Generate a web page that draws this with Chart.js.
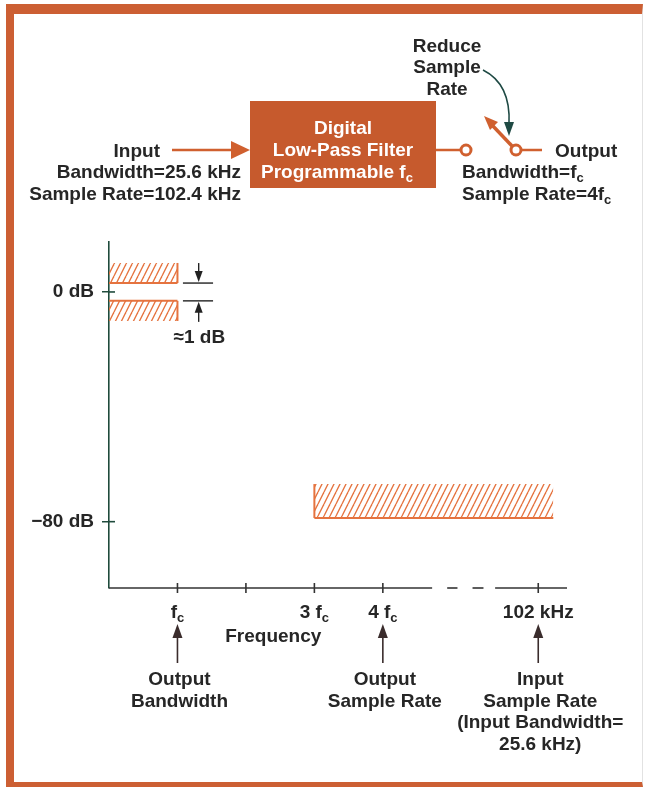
<!DOCTYPE html>
<html>
<head>
<meta charset="utf-8">
<title>Digital low-pass filter response</title>
<script src="https://cdn.jsdelivr.net/npm/chart.js@4.4.1/dist/chart.umd.min.js"></script>
<style>
  html, body { margin: 0; padding: 0; background: #fff; }
  #wrap { position: relative; width: 646px; height: 787px; overflow: hidden; background: #fff; }
  #frame {
    position: absolute; left: 6px; top: 4px; width: 637px; height: 783px; box-sizing: border-box;
    border-left: 8px solid #CC5F33; border-top: 10px solid #CC5F33; border-bottom: 5px solid #CC5F33;
    border-right: 1px solid #e2e2e2;
  }
  #chart { position: absolute; left: 0; top: 0; }
  #diagram { position: absolute; left: 0; top: 0; }
</style>
</head>
<body>
<div id="wrap">
  <div id="frame"></div>
  <canvas id="chart" width="646" height="787"></canvas>

  <!-- block diagram above the plot -->
  <svg id="diagram" width="646" height="230" font-family="'Liberation Sans', Arial, sans-serif"
       font-weight="bold" font-size="19" fill="#262626">
    <text x="447" y="52" text-anchor="middle">Reduce</text>
    <text x="447" y="73" text-anchor="middle">Sample</text>
    <text x="447" y="95" text-anchor="middle">Rate</text>
    <path d="M483,70 Q511,84 509,124" fill="none" stroke="#1F4A44" stroke-width="1.6"/>
    <polygon points="509,136 504,122 514,122" fill="#1F4A44"/>

    <text x="160" y="157" text-anchor="end">Input</text>
    <text x="241" y="178" text-anchor="end">Bandwidth=25.6 kHz</text>
    <text x="241" y="200" text-anchor="end">Sample Rate=102.4 kHz</text>
    <line x1="172" y1="150" x2="234" y2="150" stroke="#D0602F" stroke-width="2.5"/>
    <polygon points="250,150 231,141 231,159" fill="#D0602F"/>

    <rect x="250" y="101" width="186" height="87" fill="#C65A2D"/>
    <g fill="#fff" text-anchor="middle">
      <text x="343" y="134">Digital</text>
      <text x="343" y="156">Low-Pass Filter</text>
      <text x="337" y="178">Programmable f<tspan font-size="13" dy="4">c</tspan></text>
    </g>

    <line x1="436" y1="150" x2="461" y2="150" stroke="#D0602F" stroke-width="2.5"/>
    <circle cx="466" cy="150" r="5" fill="#fff" stroke="#D0602F" stroke-width="3"/>
    <line x1="512" y1="146" x2="492" y2="125" stroke="#D0602F" stroke-width="3.5"/>
    <polygon points="484,116 498,122 490,130" fill="#D0602F"/>
    <circle cx="516" cy="150" r="5" fill="#fff" stroke="#D0602F" stroke-width="3"/>
    <line x1="521" y1="150" x2="542" y2="150" stroke="#D0602F" stroke-width="2.5"/>
    <text x="555" y="157">Output</text>
    <text x="462" y="178">Bandwidth=f<tspan font-size="13" dy="4">c</tspan></text>
    <text x="462" y="200">Sample Rate=4f<tspan font-size="13" dy="4">c</tspan></text>
  </svg>
</div>

<script>
/* ── data (frequency in units of fc, level in dB; the plot is schematic) ── */
const freqTicks     = [1, 2, 3, 4, 6.27];
const freqTickMain  = ['f', '', '3 f', '4 f', '102 kHz'];
const freqTickSub   = ['c', '', 'c', 'c', ''];
const dbTicks       = [0, -80];
const dbTickLabels  = ['0 dB', '\u221280 dB'];

const bandNames = ['Passband upper limit', 'Passband lower limit', 'Stopband'];
const bandStart = [0, 0, 3];
const bandEnd   = [1, 1, 6.49];
const bandLow   = [3.1, -10.1, -78.7];
const bandHigh  = [10.1, -3.1, -66.9];

const calloutFreqs = [1, 4, 6.27];
const calloutLines = [
  ['Output', 'Bandwidth'],
  ['Output', 'Sample Rate'],
  ['Input', 'Sample Rate', '(Input Bandwidth=', '25.6 kHz)']
];

/* ── styles ── */
const HATCH  = '#E5733F';
const TEXT   = '#262626';
const ARROW  = '#3A2C2C';
const YAXIS  = '#1F4B3C';
const FONT   = "'Liberation Sans', Arial, sans-serif";
const bandEdges = [['bottom', 'right'], ['top', 'right'], ['left', 'bottom']];

function hatchPattern() {
  const c = document.createElement('canvas');
  c.width = 6; c.height = 12;
  const g = c.getContext('2d');
  g.strokeStyle = HATCH;
  g.lineWidth = 1.3;
  [-6, 0, 6].forEach(o => {
    g.beginPath();
    g.moveTo(o, 12);
    g.lineTo(o + 6, 0);
    g.stroke();
  });
  return g.createPattern(c, 'repeat');
}
const pattern = hatchPattern();

/* fill datasets: top edge filled down to the lower limit */
const datasets = bandNames.map((name, i) => ({
  label: name,
  data: [{ x: bandStart[i], y: bandHigh[i] }, { x: bandEnd[i], y: bandHigh[i] }],
  borderWidth: 0,
  pointRadius: 0,
  fill: { value: bandLow[i] },
  backgroundColor: pattern
}));

/* solid edges of each hatched region */
bandNames.forEach((name, i) => {
  bandEdges[i].forEach(side => {
    let seg;
    if (side === 'bottom') seg = [{ x: bandStart[i], y: bandLow[i] }, { x: bandEnd[i], y: bandLow[i] }];
    if (side === 'top')    seg = [{ x: bandStart[i], y: bandHigh[i] }, { x: bandEnd[i], y: bandHigh[i] }];
    if (side === 'right')  seg = [{ x: bandEnd[i], y: bandLow[i] }, { x: bandEnd[i], y: bandHigh[i] }];
    if (side === 'left')   seg = [{ x: bandStart[i], y: bandLow[i] }, { x: bandStart[i], y: bandHigh[i] }];
    datasets.push({
      label: name + ' edge',
      data: seg,
      borderColor: HATCH,
      borderWidth: 2,
      pointRadius: 0,
      fill: false
    });
  });
});

function subLabel(ctx, main, sub, cx, y) {
  ctx.font = `bold 19px ${FONT}`;
  const w1 = ctx.measureText(main).width;
  ctx.font = `bold 13px ${FONT}`;
  const w2 = sub ? ctx.measureText(sub).width : 0;
  const x0 = cx - (w1 + w2) / 2;
  ctx.textAlign = 'left';
  ctx.font = `bold 19px ${FONT}`;
  ctx.fillText(main, x0, y);
  if (sub) {
    ctx.font = `bold 13px ${FONT}`;
    ctx.fillText(sub, x0 + w1, y + 4);
  }
}

function upArrow(ctx, x, tip, tail) {
  ctx.beginPath();
  ctx.moveTo(x, tail);
  ctx.lineTo(x, tip + 10);
  ctx.stroke();
  ctx.beginPath();
  ctx.moveTo(x, tip);
  ctx.lineTo(x - 5, tip + 14);
  ctx.lineTo(x + 5, tip + 14);
  ctx.closePath();
  ctx.fill();
}

const decorations = {
  id: 'decorations',
  afterDatasetsDraw(chart) {
    const { ctx, scales: { x, y } } = chart;
    const axisY = y.getPixelForValue(y.min);
    ctx.save();

    // x axis with a break
    ctx.strokeStyle = '#333';
    ctx.lineWidth = 1.6;
    [[0, 4.72], [4.94, 5.09], [5.31, 5.47], [5.64, x.max]].forEach(([a, b]) => {
      ctx.beginPath();
      ctx.moveTo(x.getPixelForValue(a), axisY);
      ctx.lineTo(x.getPixelForValue(b), axisY);
      ctx.stroke();
    });
    freqTicks.forEach(v => {
      const px = x.getPixelForValue(v);
      ctx.beginPath();
      ctx.moveTo(px, axisY - 5);
      ctx.lineTo(px, axisY + 5);
      ctx.stroke();
    });

    // inner half of the y ticks
    ctx.strokeStyle = YAXIS;
    dbTicks.forEach(v => {
      const py = y.getPixelForValue(v);
      ctx.beginPath();
      ctx.moveTo(x.left, py);
      ctx.lineTo(x.left + 6, py);
      ctx.stroke();
    });

    // tick labels
    ctx.fillStyle = TEXT;
    ctx.textBaseline = 'alphabetic';
    freqTicks.forEach((v, i) => {
      if (freqTickMain[i]) subLabel(ctx, freqTickMain[i], freqTickSub[i], x.getPixelForValue(v), axisY + 30);
    });
    ctx.font = `bold 19px ${FONT}`;
    ctx.textAlign = 'center';
    ctx.fillText('Frequency', x.getPixelForValue(2.4), axisY + 54);

    // call-outs under the axis
    ctx.strokeStyle = ARROW;
    ctx.lineWidth = 1.6;
    calloutFreqs.forEach((v, i) => {
      const px = x.getPixelForValue(v);
      ctx.fillStyle = ARROW;
      upArrow(ctx, px, axisY + 36, axisY + 75);
      ctx.fillStyle = TEXT;
      ctx.font = `bold 19px ${FONT}`;
      ctx.textAlign = 'center';
      calloutLines[i].forEach((line, k) => ctx.fillText(line, px + 2, axisY + 97 + k * 21.5));
    });

    // ≈1 dB ripple marker
    const ax = x.getPixelForValue(1.31);
    const l0 = x.getPixelForValue(1.08), l1 = x.getPixelForValue(1.52);
    const yTop = y.getPixelForValue(bandLow[0]);
    const yBot = y.getPixelForValue(bandHigh[1]);
    ctx.strokeStyle = '#222';
    ctx.fillStyle = '#222';
    ctx.lineWidth = 1.4;
    [yTop, yBot].forEach(py => {
      ctx.beginPath();
      ctx.moveTo(l0, py);
      ctx.lineTo(l1, py);
      ctx.stroke();
    });
    ctx.beginPath();
    ctx.moveTo(ax, yTop - 20); ctx.lineTo(ax, yTop - 6); ctx.stroke();
    ctx.beginPath();
    ctx.moveTo(ax, yTop - 1); ctx.lineTo(ax - 4, yTop - 12); ctx.lineTo(ax + 4, yTop - 12); ctx.closePath(); ctx.fill();
    ctx.beginPath();
    ctx.moveTo(ax, yBot + 21); ctx.lineTo(ax, yBot + 6); ctx.stroke();
    ctx.beginPath();
    ctx.moveTo(ax, yBot + 1); ctx.lineTo(ax - 4, yBot + 12); ctx.lineTo(ax + 4, yBot + 12); ctx.closePath(); ctx.fill();
    ctx.fillStyle = TEXT;
    ctx.font = `bold 19px ${FONT}`;
    ctx.textAlign = 'center';
    ctx.fillText('\u22481 dB', x.getPixelForValue(1.32), yBot + 42);

    ctx.restore();
  }
};

new Chart(document.getElementById('chart'), {
  type: 'line',
  data: { datasets },
  options: {
    responsive: false,
    animation: false,
    layout: { padding: { top: 242, right: 79, left: 0, bottom: 0 } },
    plugins: {
      legend: { display: false },
      tooltip: { enabled: false }
    },
    scales: {
      x: {
        type: 'linear',
        min: 0,
        max: 6.69,
        afterFit: s => { s.height = 199; },
        grid: { display: false },
        border: { display: false },
        ticks: { display: false }
      },
      y: {
        type: 'linear',
        min: -103.1,
        max: 17.4,
        afterFit: s => { s.width = 109; },
        afterBuildTicks: s => { s.ticks = dbTicks.map(v => ({ value: v })); },
        grid: { drawOnChartArea: false, drawTicks: true, tickLength: 7, color: YAXIS, lineWidth: 1.5 },
        border: { display: true, color: YAXIS, width: 1.6 },
        ticks: {
          color: TEXT,
          padding: 8,
          font: { family: FONT, size: 19, weight: 'bold' },
          callback: v => dbTickLabels[dbTicks.indexOf(v)]
        }
      }
    }
  },
  plugins: [decorations]
});
</script>
</body>
</html>
